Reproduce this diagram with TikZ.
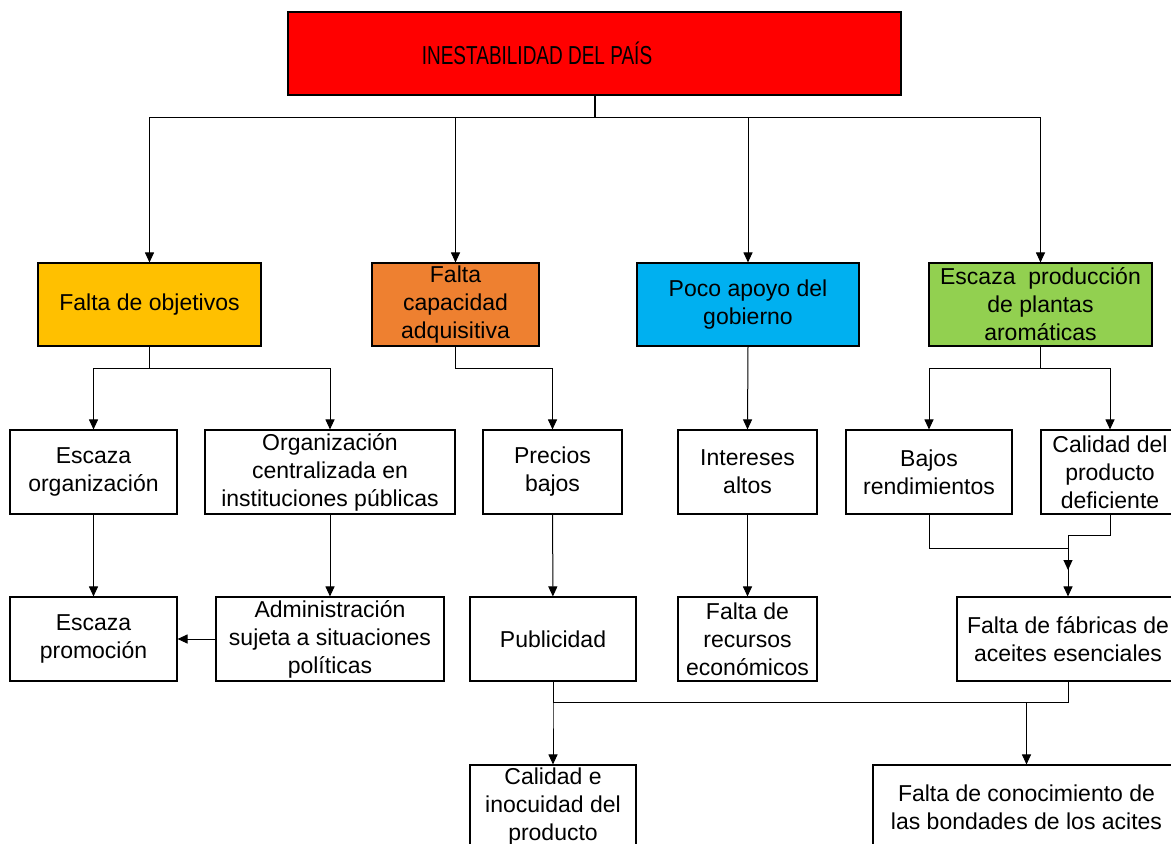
\documentclass[tikz,border=0pt]{standalone}
\usepackage{fontspec}
\setmainfont{Liberation Sans}
\usetikzlibrary{arrows.meta}

\definecolor{rojo}{HTML}{FF0000}
\definecolor{oro}{HTML}{FFC000}
\definecolor{naranja}{HTML}{EE8030}
\definecolor{celeste}{HTML}{00B0F0}
\definecolor{verde}{HTML}{92D050}

\begin{document}
\begin{tikzpicture}[x=1pt, y=-1pt, line width=1pt,
    >={Triangle[length=10pt,width=9pt]},
    main/.style = {draw, line width=1.1pt, minimum height=84, inner sep=0, align=center,
                   font=\fontsize{23}{28}\selectfont}]
      \useasboundingbox (0,0) rectangle (1171,844);

      \node[draw, line width=2pt, fill=rojo, minimum width=613, minimum height=83, inner sep=0,
            font=\fontsize{26}{28}\selectfont] (pais) at (594.5,53.5)
            {\scalebox{0.73}[1]{INESTABILIDAD DEL PAÍS}\hspace{115pt}\mbox{}};

      \node[main, fill=oro, minimum width=223, minimum height=83] (objetivos) at (149.5,304.5) {Falta de objetivos};
      \node[main, fill=naranja, minimum width=167, minimum height=83] (capacidad) at (455.5,304.5) {Falta\\capacidad\\adquisitiva};
      \node[main, fill=celeste, minimum width=222, minimum height=83] (apoyo) at (748,304.5) {Poco apoyo del\\gobierno};
      \node[main, fill=verde, minimum width=223, minimum height=83] (plantas) at (1040.5,304.5) {Escaza\ \ producción\\de plantas\\aromáticas};

      \node[main, minimum width=167] (organiz) at (93.5,472) {Escaza\\organización};
      \node[main, minimum width=250] (central) at (330,472) {Organización\\centralizada en\\instituciones públicas};
      \node[main, minimum width=139] (precios) at (552.5,472) {Precios\\bajos};
      \node[main, minimum width=139] (intereses) at (747.5,472) {Intereses\\altos};
      \node[main, minimum width=166] (rendim) at (929,472) {Bajos\\rendimientos};
      \node[main, minimum width=138] (calprod) at (1110,472) {Calidad del\\producto\\deficiente};

      \node[main, minimum width=167] (promocion) at (93.5,639) {Escaza\\promoción};
      \node[main, minimum width=228] (admin) at (330,639) {Administración\\sujeta a situaciones\\políticas};
      \node[main, minimum width=166] (publicidad) at (553,639) {Publicidad};
      \node[main, minimum width=139] (recursos) at (747.5,639) {Falta de\\recursos\\económicos};
      \node[main, minimum width=222] (fabricas) at (1068,639) {Falta de fábricas de\\aceites esenciales};

      \node[main, minimum width=166] (inocuidad) at (553,807) {Calidad e\\inocuidad del\\producto};
      \node[main, minimum width=307] (conocim) at (1026.5,807) {Falta de conocimiento de\\las bondades de los acites};

      \coordinate (junta) at (1068,570);

      \draw[line width=2pt] (pais.south) -- ++(0,21);
      \draw[->] (pais.south) ++(0,21) -| (objetivos.north);
      \draw[->] (pais.south) ++(0,21) -| (capacidad.north);
      \draw[->] (pais.south) ++(0,21) -| (apoyo.north);
      \draw[->] (pais.south) ++(0,21) -| (plantas.north);

      \draw[->] (objetivos.south) -- ++(0,22) -| (organiz.north);
      \draw[->] (objetivos.south) -- ++(0,22) -| (central.north);
      \draw[->] (capacidad.south) -- ++(0,22) -| (precios.north);
      \draw[->] (apoyo.south) -- (intereses.north);
      \draw[->] (plantas.south) -- ++(0,22) -| (rendim.north);
      \draw[->] (plantas.south) -- ++(0,22) -| (calprod.north);

      \draw[->] (organiz) -- (promocion);
      \draw[->] (central) -- (admin);
      \draw[->] (admin) -- (promocion);
      \draw[->] (precios) -- (publicidad);
      \draw[->] (intereses) -- (recursos);
      \draw[->] (rendim.south) -- ++(0,34) -| (junta);
      \draw[->] (calprod.south) -- ++(0,21) -| (fabricas.north);

      \draw (publicidad.south) -- ++(0,21) -| (fabricas.south);
      \draw[->] (publicidad.south) -- ++(0,21) -| (inocuidad.north);
      \draw[->] (fabricas.south) -- ++(0,21) -| (conocim.north);
\end{tikzpicture}
\end{document}
